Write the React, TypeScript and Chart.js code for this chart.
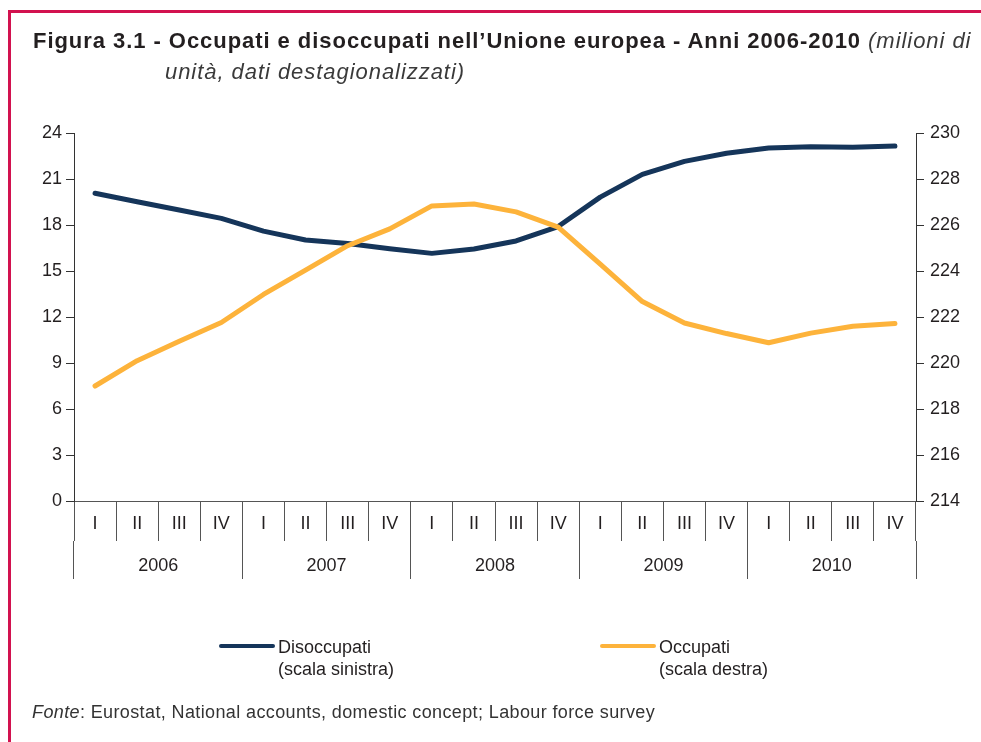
import React, { useEffect, useRef } from 'react';
import { Chart, registerables } from 'chart.js';

Chart.register(...registerables);

const quarters = ['I', 'II', 'III', 'IV', 'I', 'II', 'III', 'IV', 'I', 'II', 'III', 'IV', 'I', 'II', 'III', 'IV', 'I', 'II', 'III', 'IV'];
const years = ['2006', '2007', '2008', '2009', '2010'];
const disoccupati = [20.07, 19.52, 18.98, 18.43, 17.6, 17.02, 16.8, 16.45, 16.15, 16.44, 16.96, 17.9, 19.82, 21.3, 22.15, 22.68, 23.02, 23.1, 23.07, 23.15];
const occupati = [219.0, 220.1, 220.95, 221.76, 222.98, 224.04, 225.1, 225.83, 226.83, 226.91, 226.57, 225.91, 224.3, 222.67, 221.74, 221.28, 220.88, 221.3, 221.6, 221.72];
const leftAxis = { min: 0, max: 24, step: 3 };
const rightAxis = { min: 214, max: 230, step: 2 };

const NAVY = '#15355a';
const ORANGE = '#fdb33b';
const TEXT = '#231f20';
const AXIS = '#555555';
const FONT = "'Liberation Sans', Arial, Helvetica, sans-serif";

export default function App() {
  const ref = useRef<HTMLCanvasElement | null>(null);

  useEffect(() => {
    if (!ref.current) return;
    const tickFont = { family: FONT, size: 18 };
    const chart = new Chart(ref.current, {
      type: 'line',
      data: {
        labels: quarters,
        datasets: [
          {
            label: 'Disoccupati (scala sinistra)',
            data: disoccupati,
            yAxisID: 'y',
            xAxisID: 'x',
            borderColor: NAVY,
            backgroundColor: NAVY,
            borderWidth: 5,
            pointRadius: 0,
            tension: 0,
            borderCapStyle: 'round',
            borderJoinStyle: 'round',
            order: 1,
          },
          {
            label: 'Occupati (scala destra)',
            data: occupati,
            yAxisID: 'y1',
            xAxisID: 'x',
            borderColor: ORANGE,
            backgroundColor: ORANGE,
            borderWidth: 5,
            pointRadius: 0,
            tension: 0,
            borderCapStyle: 'round',
            borderJoinStyle: 'round',
            order: 0,
          },
        ],
      },
      options: {
        responsive: false,
        animation: false,
        devicePixelRatio: 1,
        layout: { padding: { left: 20, right: 11, top: 133, bottom: 161 } },
        plugins: { legend: { display: false }, tooltip: { enabled: false }, title: { display: false } },
        scales: {
          x: {
            type: 'category',
            position: 'bottom',
            weight: 1,
            offset: true,
            grid: { display: true, drawOnChartArea: false, offset: true, tickLength: 40, color: AXIS, lineWidth: 1 },
            border: { display: true, color: AXIS, width: 1 },
            ticks: { font: tickFont, color: TEXT, padding: -28, maxRotation: 0, autoSkip: false },
            afterFit: (s: any) => { s.height = 40; },
          },
          x2: {
            type: 'category',
            labels: years,
            position: 'bottom',
            weight: 2,
            offset: true,
            grid: { display: true, drawOnChartArea: false, offset: true, tickLength: 38, color: AXIS, lineWidth: 1 },
            border: { display: false },
            ticks: { font: tickFont, color: TEXT, padding: -24, maxRotation: 0, autoSkip: false },
            afterFit: (s: any) => { s.height = 40; },
          },
          y: {
            type: 'linear',
            position: 'left',
            min: leftAxis.min,
            max: leftAxis.max,
            ticks: { stepSize: leftAxis.step, font: tickFont, color: TEXT, padding: 4 },
            grid: { drawOnChartArea: false, tickLength: 8, color: '#333', lineWidth: 1 },
            border: { display: true, color: '#333', width: 1 },
            afterFit: (s: any) => { s.width = 54; },
          },
          y1: {
            type: 'linear',
            position: 'right',
            min: rightAxis.min,
            max: rightAxis.max,
            ticks: { stepSize: rightAxis.step, font: tickFont, color: TEXT, padding: 6 },
            grid: { drawOnChartArea: false, tickLength: 8, color: '#333', lineWidth: 1 },
            border: { display: true, color: '#333', width: 1 },
            afterFit: (s: any) => { s.width = 54; },
          },
        },
      },
    } as any);
    return () => chart.destroy();
  }, []);

  const abs = (o: React.CSSProperties): React.CSSProperties => ({ position: 'absolute', whiteSpace: 'nowrap', ...o });

  return (
    <div style={{ position: 'fixed', left: 0, top: 0, width: 981, height: 742, background: '#fff', overflow: 'hidden', fontFamily: FONT, color: TEXT }}>
      <div style={abs({ left: 8, top: 10, width: 1000, height: 800, borderTop: '3px solid #d2124f', borderLeft: '3px solid #d2124f', boxSizing: 'border-box' })} />
      <canvas ref={ref} width={981} height={742} style={abs({ left: 0, top: 0, width: 981, height: 742 })} />
      <div style={abs({ left: 33, top: 28, fontSize: 22, lineHeight: '26px', letterSpacing: '0.95px' })}>
        <span style={{ fontWeight: 'bold' }}>Figura 3.1 - Occupati e disoccupati nell’Unione europea - Anni 2006-2010</span>
        <span style={{ fontStyle: 'italic', color: '#3a3a3a' }}> (milioni di</span>
      </div>
      <div style={abs({ left: 165, top: 59, fontSize: 22, lineHeight: '26px', letterSpacing: '0.95px', fontStyle: 'italic', color: '#3a3a3a' })}>
        unità, dati destagionalizzati)
      </div>
      <div style={abs({ left: 219, top: 644, width: 56, height: 4, borderRadius: 2, background: NAVY })} />
      <div style={abs({ left: 278, top: 636, fontSize: 18, lineHeight: '22px' })}>
        Disoccupati<br />(scala sinistra)
      </div>
      <div style={abs({ left: 600, top: 644, width: 56, height: 4, borderRadius: 2, background: ORANGE })} />
      <div style={abs({ left: 659, top: 636, fontSize: 18, lineHeight: '22px' })}>
        Occupati<br />(scala destra)
      </div>
      <div style={abs({ left: 32, top: 701, fontSize: 18, lineHeight: '22px', letterSpacing: '0.38px', color: '#333' })}>
        <span style={{ fontStyle: 'italic' }}>Fonte</span>: Eurostat, National accounts, domestic concept; Labour force survey
      </div>
    </div>
  );
}
